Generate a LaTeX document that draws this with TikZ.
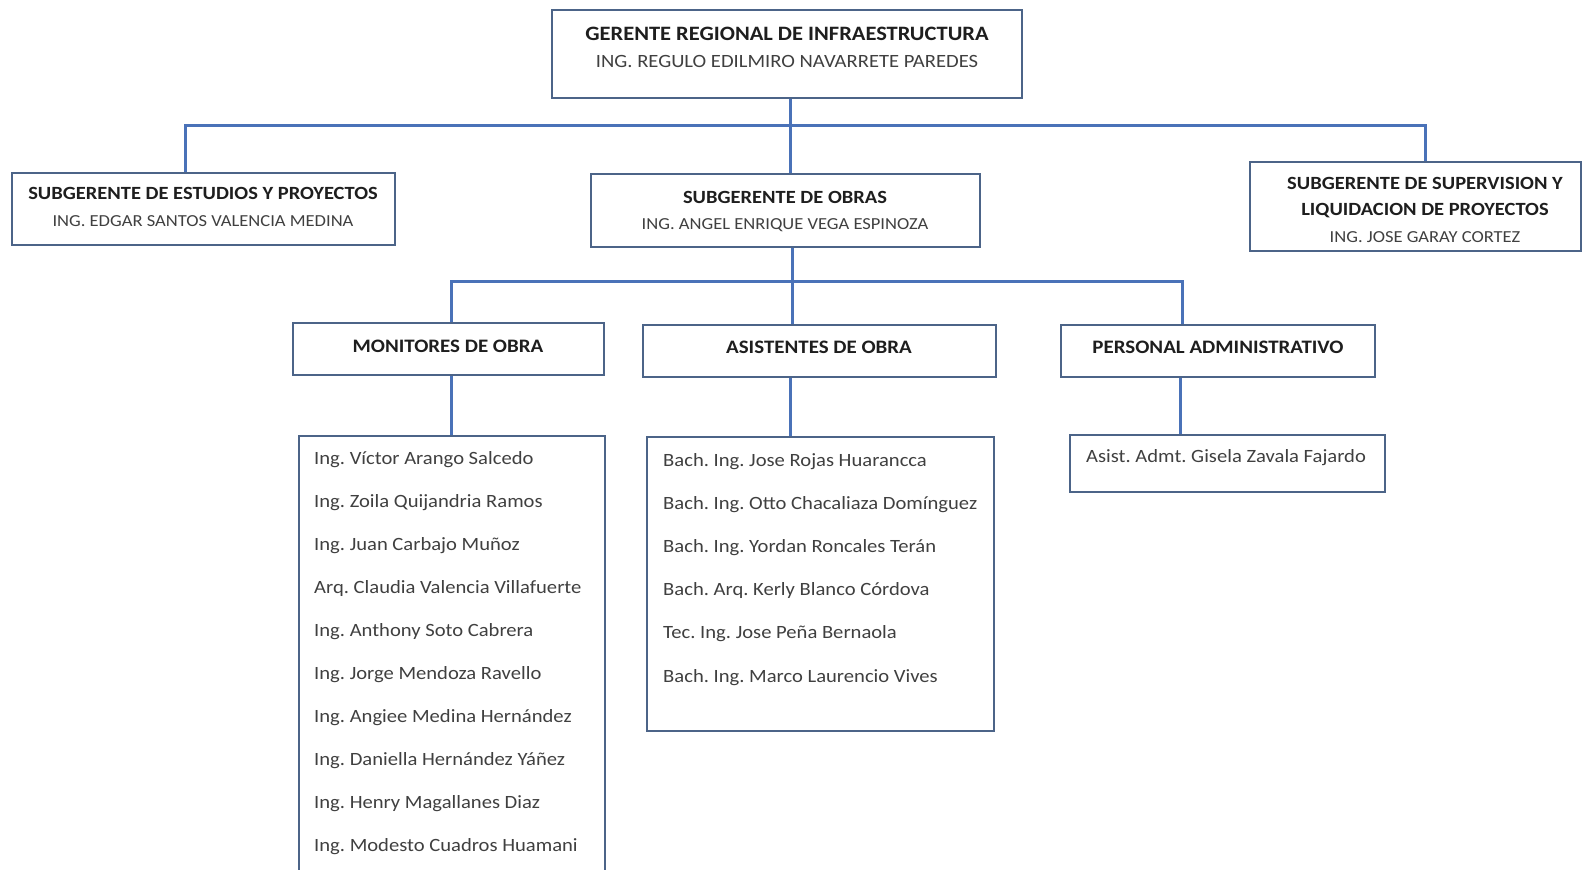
\documentclass[tikz,border=0pt]{standalone}
\usepackage{fontspec}
\setmainfont[FakeStretch=1.1]{Carlito}
\usetikzlibrary{fit}
\definecolor{linec}{HTML}{4A72B8}
\definecolor{boxc}{HTML}{4C6488}
\definecolor{txtc}{HTML}{1E1E1E}
\frenchspacing
\begin{document}
\begin{tikzpicture}[x=1bp,y=-1bp,
  box/.style={draw=boxc, line width=1.8bp, inner sep=0pt, fill=white},
  conn/.style={draw=linec, line width=3bp},
  tbig/.style={font=\fontsize{20.5}{24}\selectfont\bfseries, text=txtc, anchor=base, inner sep=0pt},
  tsubb/.style={font=\fontsize{18.7}{22}\selectfont\bfseries, text=txtc, anchor=base, inner sep=0pt},
  tlev/.style={font=\fontsize{19.1}{22}\selectfont\bfseries, text=txtc, anchor=base, inner sep=0pt},
  tsub/.style={font=\fontsize{16.9}{20}\selectfont, text=txtc!85, anchor=base, inner sep=0pt},
  tname/.style={font=\fontsize{18.8}{22}\selectfont, text=txtc!85, anchor=base west, inner sep=0pt}]
\useasboundingbox (0,0) rectangle (1583,869);
\clip (0,0) rectangle (1583,869);
\fill[white] (0,0) rectangle (1583,869);

% bus coordinates
\coordinate (busA) at (790,125);
\coordinate (busL) at (185,125);
\coordinate (busR) at (1425,125);
\coordinate (busB) at (792,281);
\coordinate (busBL) at (451,281);
\coordinate (busBR) at (1182,281);

% boxes
\node[box, fit={(552,10) (1022,98)}] (top) {};
\node[box, fit={(12,173) (395,245)}] (est) {};
\node[box, fit={(591,174) (980,247)}] (obr) {};
\node[box, fit={(1250,162) (1581,251)}] (sup) {};
\node[box, fit={(293,323) (604,375)}] (mon) {};
\node[box, fit={(643,325) (996,377)}] (asi) {};
\node[box, fit={(1061,325) (1375,377)}] (per) {};
\node[box, fit={(299,436) (605,878)}] (monl) {};
\node[box, fit={(647,437) (994,731)}] (asil) {};
\node[box, fit={(1070,435) (1385,492)}] (perl) {};

% connectors
\draw[conn] (busA |- top.south) -- (busA |- obr.north);
\draw[conn] (busL |- est.north) -- (busL) -- (busR) -- (busR |- sup.north);
\draw[conn] (busB |- obr.south) -- (busB |- asi.north);
\draw[conn] (busBL |- mon.north) -- (busBL) -- (busBR) -- (busBR |- per.north);
\draw[conn] (busBL |- mon.south) -- (busBL |- monl.north);
\draw[conn] (790,0 |- asi.south) -- (790,0 |- asil.north);
\draw[conn] (1180,0 |- per.south) -- (1180,0 |- perl.north);

% texts
\node[tbig] (t1) at (787,40) {GERENTE REGIONAL DE INFRAESTRUCTURA};
\node[tsub, font=\fontsize{18.8}{22}\selectfont] (t2) at (787,67) {ING. REGULO EDILMIRO NAVARRETE PAREDES};

\node[tsubb] (e1) at (203,199) {SUBGERENTE DE ESTUDIOS Y PROYECTOS};
\node[tsub] (e2) at (203,226) {ING. EDGAR SANTOS VALENCIA MEDINA};

\node[tsubb] (o1) at (785,203) {SUBGERENTE DE OBRAS};
\node[tsub] (o2) at (785,229) {ING. ANGEL ENRIQUE VEGA ESPINOZA};

\node[tsubb] (s1) at (1425,189) {SUBGERENTE DE SUPERVISION Y};
\node[tsubb] (s2) at (1425,215) {LIQUIDACION DE PROYECTOS};
\node[tsub] (s3) at (1425,242) {ING. JOSE GARAY CORTEZ};

\node[tlev] (m1) at (448,352) {MONITORES DE OBRA};
\node[tlev] (a1) at (819,353) {ASISTENTES DE OBRA};
\node[tlev] (p1) at (1218,353) {PERSONAL ADMINISTRATIVO};

\foreach \n [count=\i from 0] in {Ing. Víctor Arango Salcedo, Ing. Zoila Quijandria Ramos, Ing. Juan Carbajo Muñoz, Arq. Claudia Valencia Villafuerte, Ing. Anthony Soto Cabrera, Ing. Jorge Mendoza Ravello, Ing. Angiee Medina Hernández, Ing. Daniella Hernández Yáñez, Ing. Henry Magallanes Diaz, Ing. Modesto Cuadros Huamani}
  \node[tname] (mn\i) at (314,{464+43.1*\i}) {\n};

\foreach \n [count=\i from 0] in {Bach. Ing. Jose Rojas Huarancca, Bach. Ing. Otto Chacaliaza Domínguez, Bach. Ing. Yordan Roncales Terán, Bach. Arq. Kerly Blanco Córdova, Tec. Ing. Jose Peña Bernaola, Bach. Ing. Marco Laurencio Vives}
  \node[tname] (an\i) at (663,{466+43.2*\i}) {\n};

\node[tname] (pn0) at (1086,462) {Asist. Admt. Gisela Zavala Fajardo};
\end{tikzpicture}
\end{document}
